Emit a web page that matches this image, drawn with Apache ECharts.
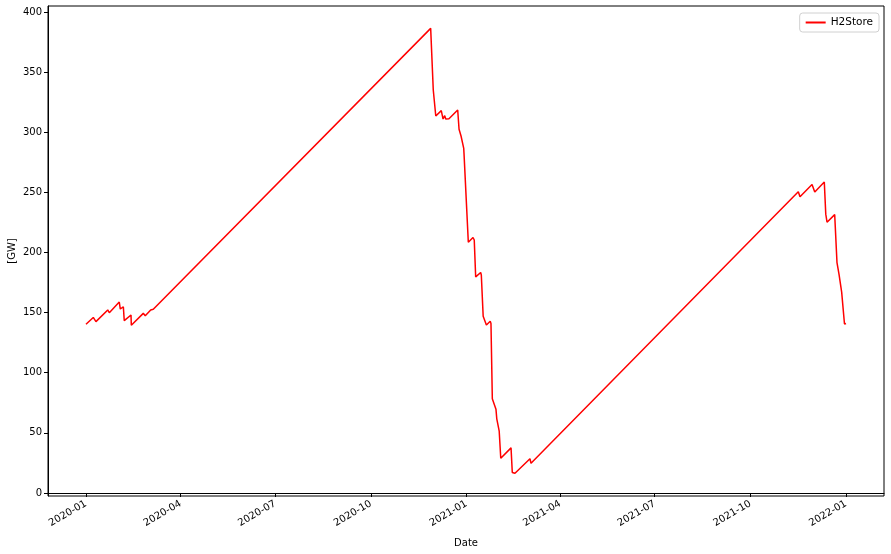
<!DOCTYPE html>
<html>
<head>
<meta charset="utf-8">
<script src="https://cdn.jsdelivr.net/npm/echarts@6/dist/echarts.min.js"></script>
<style>
html,body{margin:0;padding:0;background:#fff;}
#chart{width:891px;height:554px;}
</style>
</head>
<body>
<div id="chart"></div>
<script>
// Hourly timestamps (UTC) of the series' vertices
const times = [
  '2020-01-01T00','2020-01-08T00','2020-01-10T14','2020-01-21T22','2020-01-23T10',
  '2020-02-02T00','2020-02-03T00','2020-02-05T22','2020-02-06T19','2020-02-13T07',
  '2020-02-13T14','2020-02-25T02','2020-02-27T00','2020-03-03T05','2020-03-05T17',
  '2020-11-27T12','2020-11-30T00','2020-12-01T00','2020-12-02T10','2020-12-07T17',
  '2020-12-09T10','2020-12-11T00','2020-12-12T00','2020-12-13T22','2020-12-15T02',
  '2020-12-23T12','2020-12-24T19','2020-12-26T00','2020-12-26T17','2020-12-28T07',
  '2020-12-29T07','2020-12-29T14','2020-12-31T00','2021-01-02T17','2021-01-04T07',
  '2021-01-07T05','2021-01-08T10','2021-01-09T19','2021-01-14T14','2021-01-15T05',
  '2021-01-17T00','2021-01-18T19','2021-01-20T02','2021-01-23T19','2021-01-24T12',
  '2021-01-25T19','2021-01-27T17','2021-01-29T07','2021-01-30T02','2021-01-31T14',
  '2021-02-01T10','2021-02-02T22','2021-02-12T19','2021-02-14T00','2021-02-15T00',
  '2021-02-16T14','2021-03-03T00','2021-03-04T00','2021-11-16T02','2021-11-17T17',
  '2021-11-29T07','2021-12-01T22','2021-12-11T02','2021-12-12T12','2021-12-13T17',
  '2021-12-21T02','2021-12-23T07','2021-12-24T14','2021-12-25T07','2021-12-27T00',
  '2021-12-27T19','2021-12-29T10','2021-12-30T12','2021-12-31T23'
];
const h2store = [
  140.3,146,142.5,152.2,149.9,
  158.8,153,154.9,143.3,148,
  139.5,149.4,147.4,152.2,152.8,
  386.4,335.1,334.6,313.5,318,
  311,313.8,311,312.4,311.3,
  318.5,302.5,302.5,296.9,298.5,
  286.6,282,281.9,208.6,209.6,
  212.5,210.4,179.7,183.4,181.3,
  146.9,146.2,139.7,142.8,141,
  78.3,77.6,69.7,61.7,61.7,
  51.4,28.9,37.5,17,17.7,
  16.4,28.5,24.7,250.6,246.4,
  256.5,250.3,258.6,231.9,225.2,
  231.5,191.6,190.7,181.6,181.6,
  167.1,167.8,140.5,141
];
const xTickLabels = ['2020-01','2020-04','2020-07','2020-10','2021-01','2021-04','2021-07','2021-10','2022-01'];
const yTicks = [0,50,100,150,200,250,300,350,400];

function ts(s){ return Date.parse(s + ':00:00Z'); }
const seriesData = times.map((t,i)=>[ts(t), h2store[i]]);
const xTickValues = xTickLabels.map(s => Date.parse(s + '-01T00:00:00Z'));
const first = seriesData[0][0], last = seriesData[seriesData.length-1][0];
const pad = (last - first) * 0.05;

const font = 'DejaVu Sans';
const chart = echarts.init(document.getElementById('chart'));
chart.setOption({
  animation: false,
  backgroundColor: '#fff',
  grid: {left:48, right:7, top:6, bottom:58, containLabel:false, outerBoundsMode:'none',
         show:true, borderColor:'#000', borderWidth:1, backgroundColor:'#fff'},
  legend: {
    show: true, right: 12, top: 13, orient:'vertical',
    backgroundColor:'#fff', borderColor:'#d0d0d0', borderWidth:1, borderRadius:3,
    padding:[4,6,4,6],
    itemWidth: 20, itemHeight: 2, icon: 'rect', itemGap: 8,
    textStyle:{fontFamily:font, fontSize:10.5, color:'#000'},
    data:[{name:'H2Store', icon:'rect'}]
  },
  xAxis: {
    type:'value', min:first - pad, max:last + pad,
    name:'Date', nameLocation:'middle', nameGap:42, nameMoveOverlap:false,
    nameTextStyle:{fontFamily:font, fontSize:10, color:'#000'},
    axisLine:{show:true, lineStyle:{color:'#000', width:1}},
    axisTick:{show:true, length:4, lineStyle:{color:'#000'}, customValues: xTickValues},
    splitLine:{show:false},
    axisLabel:{
      rotate:30, margin:7, fontFamily:font, fontSize:10, color:'#000',
      customValues: xTickValues,
      formatter: function(v){
        let best = 0, bd = Infinity;
        xTickValues.forEach((t,i)=>{ const d = Math.abs(t - v); if (d < bd) { bd = d; best = i; } });
        return bd < 86400000 ? xTickLabels[best] : '';
      }
    }
  },
  yAxis: {
    type:'value', min:-2.5, max:405,
    name:'[GW]', nameLocation:'middle', nameGap:31, nameRotate:90, nameMoveOverlap:false,
    nameTextStyle:{fontFamily:font, fontSize:10, color:'#000'},
    axisLine:{show:true, lineStyle:{color:'#000', width:1}},
    axisTick:{show:true, length:4, lineStyle:{color:'#000'}, customValues: yTicks},
    splitLine:{show:false},
    axisLabel:{fontFamily:font, fontSize:10, color:'#000', margin:6, customValues: yTicks}
  },
  series: [{
    name:'H2Store', type:'line', data:seriesData, showSymbol:false, symbol:'none',
    lineStyle:{color:'#ff0000', width:1.5}, itemStyle:{color:'#ff0000'}
  }]
});
</script>
</body>
</html>
